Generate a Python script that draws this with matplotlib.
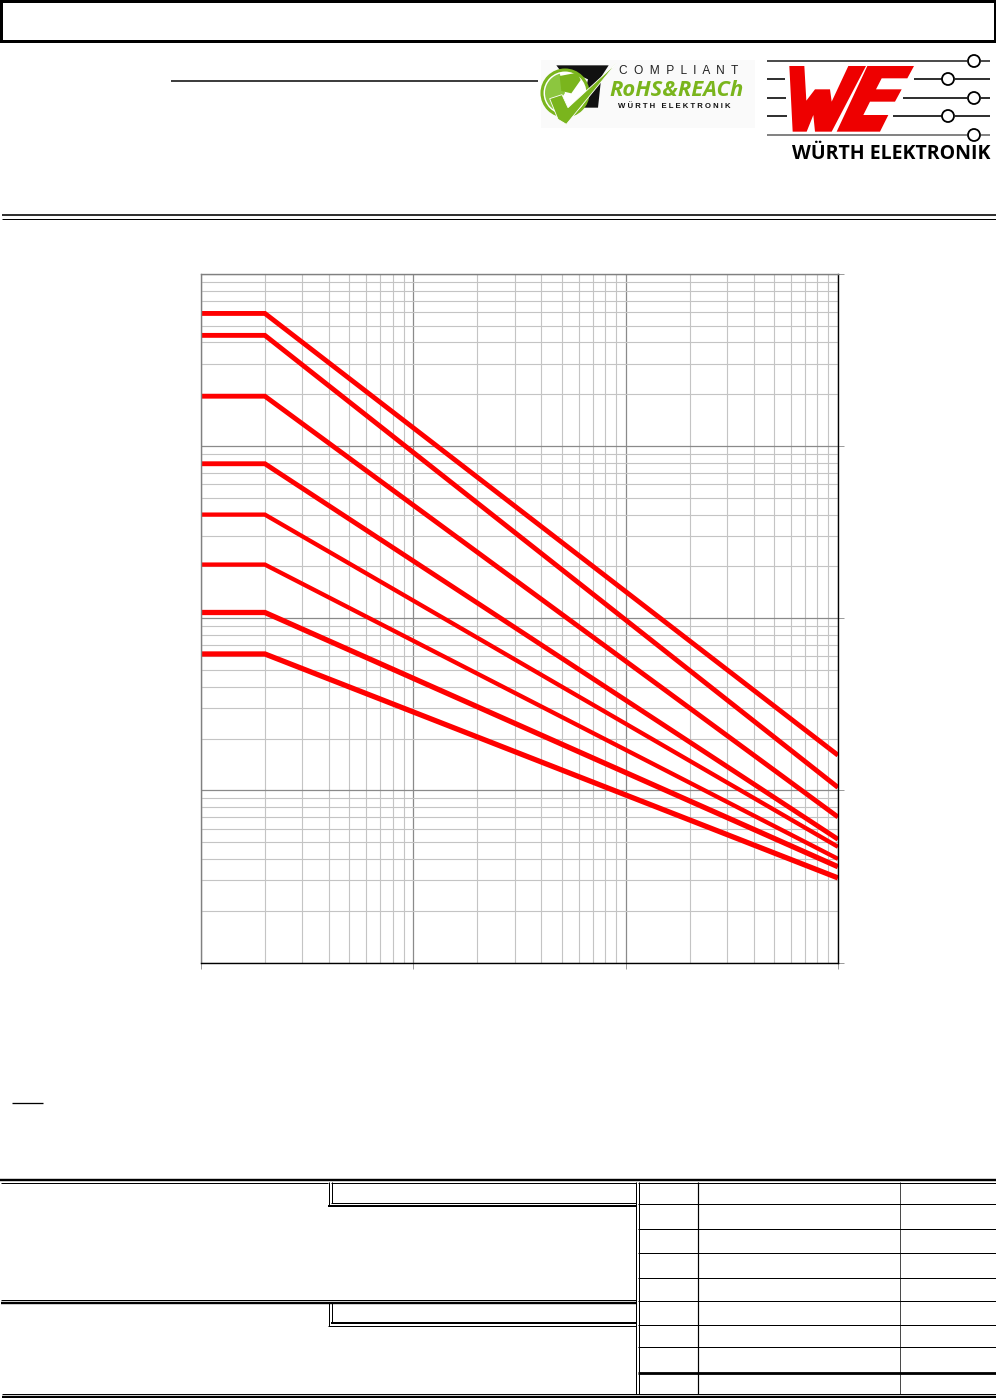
import matplotlib
matplotlib.use("Agg")
import matplotlib.pyplot as plt
from matplotlib.patches import Polygon, Circle, Rectangle, Wedge
from matplotlib.ticker import LogLocator, NullFormatter

# chart data (x and y in arbitrary log units; the reference prints no labels)
knee_x = 2
end_x = 1000
plateau = [5900, 4400, 1950, 790, 400, 205, 108, 62]
end_val = [16, 10.4, 7, 5.2, 4.7, 4, 3.6, 3.1]
line_widths = [3.5, 3.5, 3.5, 3.5, 3.1, 3.1, 3.8, 3.8]

W, H = 996, 1398
fig = plt.figure(figsize=(W / 100, H / 100), dpi=100, facecolor="white")

# page furniture, pixel coordinates
pg = fig.add_axes([0, 0, 1, 1])
pg.set_xlim(0, W)
pg.set_ylim(H, 0)
pg.axis("off")


def seg(x0, y0, x1, y1, px=1.0, color="black", **kw):
    pg.plot([x0, x1], [y0, y1], color=color, lw=px * 0.72,
            solid_capstyle="butt", **kw)


# header frame
pg.add_patch(Rectangle((1.3, 1), 993.7, 40, fill=False, ec="black", lw=3 * 0.72))
seg(171, 81, 538, 81, 1.5)
seg(2, 215.3, W, 215.3, 1.6)
seg(2, 218.5, W, 218.5, 1.0)
seg(12, 1102.5, 43, 1102.5, 1.3)

# title block
seg(0, 1179.5, W, 1179.5, 2.4)
seg(1, 1182.5, 328, 1182.5, 1)
seg(331, 1182.5, 636, 1182.5, 1)
seg(638, 1182.5, W, 1182.5, 1)
seg(2, 1394, W, 1394, 1)
seg(2, 1397, W, 1397, 2.4)
seg(1, 1299.5, 636, 1299.5, 1)
seg(1, 1302.5, 636, 1302.5, 2.4)
# double verticals
seg(636, 1182, 636, 1394, 1)
seg(638.5, 1182, 638.5, 1394, 1)
# first inner box
seg(328.5, 1182, 328.5, 1205.5, 1)
seg(331.5, 1182, 331.5, 1203, 1)
seg(331, 1203, 636, 1203, 1)
seg(328, 1205.5, 636, 1205.5, 2)
# second inner box
seg(328.5, 1302, 328.5, 1325.5, 1)
seg(331.5, 1302, 331.5, 1323, 1)
seg(331, 1323, 636, 1323, 2)
seg(328, 1325.5, 636, 1325.5, 1)
# revision table
for y in [1203.5, 1228.5, 1252.5, 1278, 1300.5, 1324.5, 1346.5]:
    seg(638, y, W, y, 1)
seg(638, 1373, W, 1373, 2.8)
seg(698, 1182, 698, 1394, 1.2)
seg(900, 1182, 900, 1394, 0.7)


def zpoly(ox, oy, pts, **kw):
    pg.add_patch(Polygon([(ox + x / 3, oy + y / 3) for x, y in pts], closed=True, **kw))


# Wurth logo
wires = [(61, [(767, 967), (981, 990)], 974, "#222222"),
         (79, [(767, 785), (914, 942), (955, 990)], 948, "black"),
         (98, [(767, 786), (903, 967), (981, 990)], 974, "black"),
         (116, [(767, 787), (893, 942), (955, 990)], 948, "black"),
         (135, [(767, 967), (981, 990)], 974, "#666666")]
for y, spans, cx, col in wires:
    for a, b in spans:
        seg(a, y, b, y, 1.6, color=col)
    pg.add_patch(Circle((cx, y), 6, fc="white", ec="black", lw=1.3))
zpoly(780, 60, [(28, 18), (73, 18), (79, 122), (105, 88), (150, 88), (155, 125), (205, 18),
                (258, 18), (155, 215), (105, 215), (100, 165), (80, 215), (38, 215)],
      fc="#ee0000", ec="none")
zpoly(780, 60, [(262, 18), (402, 18), (382, 55), (305, 55), (288, 88), (365, 88), (345, 125),
                (270, 125), (250, 165), (325, 165), (300, 215), (170, 215)],
      fc="#ee0000", ec="none")
pg.text(891, 154, "WÜRTH ELEKTRONIK", ha="center", va="center", fontsize=14.0,
        family="Open Sans", fontweight="bold", color="black")

# compliance logo
pg.add_patch(Rectangle((541, 60), 214, 68, fc="#fafafa", ec="none"))
zpoly(538, 56, [(55, 28), (212, 28), (190, 62), (180, 155), (130, 155), (150, 70), (95, 45), (70, 48)],
      fc="#111111", ec="none")
pg.add_patch(Circle((565, 93), 23, fc="white", ec="#7ab51d", lw=2.2))
pg.add_patch(Wedge((565, 93), 20, 125, 255, fc="#8cc63f", ec="none"))
zpoly(538, 56, [(65, 60), (118, 50), (128, 72), (100, 112), (70, 105)], fc="#7ab51d", ec="none")
zpoly(538, 56, [(35, 128), (72, 116), (90, 155), (235, 22), (85, 205), (60, 190)],
      fc="#7ab51d", ec="white", lw=0.6)
pg.text(679, 71, "C  O  M  P  L  I  A  N  T", ha="center", va="center", fontsize=8.6,
        family="Liberation Sans", color="#222222")
pg.text(677, 91, "RoHS&REACh", ha="center", va="center", fontsize=15.8, family="Open Sans",
        fontweight="bold", style="italic", color="#7ab51d")
pg.text(674, 106, "W Ü R T H   E L E K T R O N I K", ha="center", va="center", fontsize=5.6,
        family="Liberation Sans", fontweight="bold", color="#111111")

# chart
ax = fig.add_axes([201 / W, 1 - 962.5 / H, (838 - 201) / W, (962.5 - 274) / H])
ax.set_xscale("log")
ax.set_yscale("log")
ax.set_xlim(1, end_x)
ax.set_ylim(1, 10000)
ax.xaxis.set_major_locator(LogLocator(base=10, numticks=6))
ax.yaxis.set_major_locator(LogLocator(base=10, numticks=7))
ax.xaxis.set_minor_locator(LogLocator(base=10, subs=range(2, 10), numticks=12))
ax.yaxis.set_minor_locator(LogLocator(base=10, subs=range(2, 10), numticks=12))
ax.xaxis.set_major_formatter(NullFormatter())
ax.yaxis.set_major_formatter(NullFormatter())
ax.xaxis.set_minor_formatter(NullFormatter())
ax.yaxis.set_minor_formatter(NullFormatter())
ax.grid(True, which="major", color="#8a8a8a", lw=0.9)
ax.grid(True, which="minor", color="#c4c4c4", lw=0.8)
ax.tick_params(which="minor", length=0)
ax.tick_params(which="major", length=4, width=0.7, color="#999999", left=False, right=True)
ax.set_axisbelow(True)
for side, col in [("left", "#808080"), ("top", "#808080"), ("right", "black"), ("bottom", "black")]:
    ax.spines[side].set_color(col)
    ax.spines[side].set_linewidth(1.0)

for p, e, lw in zip(plateau, end_val, line_widths):
    ax.plot([1, knee_x, end_x], [p, p, e], color="#ff0000", lw=lw,
            solid_joinstyle="miter", solid_capstyle="butt", clip_on=True)

fig.savefig("out.png", dpi=100, facecolor="white")
